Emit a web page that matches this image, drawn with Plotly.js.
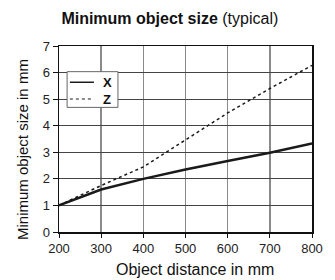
<!DOCTYPE html>
<html><head><meta charset="utf-8">
<script src="https://cdn.plot.ly/plotly-3.0.1.min.js"></script>
<style>html,body{margin:0;padding:0;background:#fff}#c{width:335px;height:280px}</style>
</head><body><div id="c"></div>
<script>
const distances = [200, 300, 400, 500, 600, 700, 800];
const sizeX = [1.0, 1.6, 2.0, 2.35, 2.67, 2.98, 3.33];
const sizeZ = [1.0, 1.75, 2.45, 3.45, 4.48, 5.4, 6.27];
const seriesNames = ['X', 'Z'];
const xTicks = [200, 300, 400, 500, 600, 700, 800];
const yTicks = [0, 1, 2, 3, 4, 5, 6, 7];

const narrow = 'Liberation Sans Narrow, Arial Narrow, sans-serif';
const tickFont = {family: 'Liberation Sans, Arial, sans-serif', size: 13, color: '#222'};
const data = [
  {x: distances, y: sizeX, name: seriesNames[0], mode: 'lines', line: {color: '#1a1a1a', width: 2.5}},
  {x: distances, y: sizeZ, name: seriesNames[1], mode: 'lines', line: {color: '#1a1a1a', width: 1.5, dash: 'dot'}}
];
const layout = {
  width: 335, height: 280,
  margin: {l: 59, r: 23, t: 46, b: 48},
  paper_bgcolor: '#fff', plot_bgcolor: '#fff',
  showlegend: false,
  title: {text: '<b>Minimum object size</b> (typical)', x: 0.507, xanchor: 'center', y: 0.936, yanchor: 'middle',
    font: {family: narrow, size: 16, color: '#111'}},
  xaxis: {range: [200, 800], tickvals: xTicks, ticktext: xTicks.map(String), tickfont: tickFont,
    showgrid: true, gridcolor: '#8a8a8a', gridwidth: 1.5, zeroline: false,
    showline: true, linecolor: '#111', linewidth: 1.5, mirror: true,
    ticks: 'outside', ticklen: 4, tickcolor: '#111'},
  yaxis: {range: [0, 7], tickvals: yTicks, ticktext: yTicks.map(String), tickfont: tickFont,
    showgrid: true, gridcolor: '#444', gridwidth: 1.2, zeroline: false,
    showline: true, linecolor: '#111', linewidth: 1.5, mirror: true,
    ticks: 'outside', ticklen: 5, tickcolor: '#111'},
  annotations: [
    {text: 'Object distance in mm', xref: 'paper', yref: 'paper', x: 0.538, y: (232 - 269) / 186,
     xanchor: 'center', yanchor: 'middle', showarrow: false, font: {family: narrow, size: 16, color: '#111'}},
    {text: 'Minimum object size in mm', xref: 'paper', yref: 'paper', x: (22 - 59) / 253, y: (232 - 150) / 186,
     xanchor: 'center', yanchor: 'middle', textangle: -90, showarrow: false, font: {family: narrow, size: 15, color: '#111'}},
    {text: '<b>' + seriesNames[0] + '</b>', xref: 'paper', yref: 'paper', x: 0.19, y: 0.805,
     xanchor: 'center', yanchor: 'middle', showarrow: false, font: {family: 'Liberation Sans, Arial, sans-serif', size: 13, color: '#111'}},
    {text: '<b>' + seriesNames[1] + '</b>', xref: 'paper', yref: 'paper', x: 0.19, y: 0.715,
     xanchor: 'center', yanchor: 'middle', showarrow: false, font: {family: 'Liberation Sans, Arial, sans-serif', size: 13, color: '#111'}}
  ],
  shapes: [
    {type: 'rect', xref: 'paper', yref: 'paper', x0: 0.032, x1: 0.233, y0: 0.670, y1: 0.862,
     fillcolor: '#fff', line: {color: '#666', width: 1}, layer: 'above'},
    {type: 'line', xref: 'paper', yref: 'paper', x0: 0.043, x1: 0.138, y0: 0.805, y1: 0.805,
     line: {color: '#1a1a1a', width: 1.5}, layer: 'above'},
    {type: 'line', xref: 'paper', yref: 'paper', x0: 0.043, x1: 0.138, y0: 0.715, y1: 0.715,
     line: {color: '#1a1a1a', width: 1.2, dash: 'dot'}, layer: 'above'}
  ]
};
Plotly.newPlot('c', data, layout, {staticPlot: true, displayModeBar: false});
</script></body></html>
